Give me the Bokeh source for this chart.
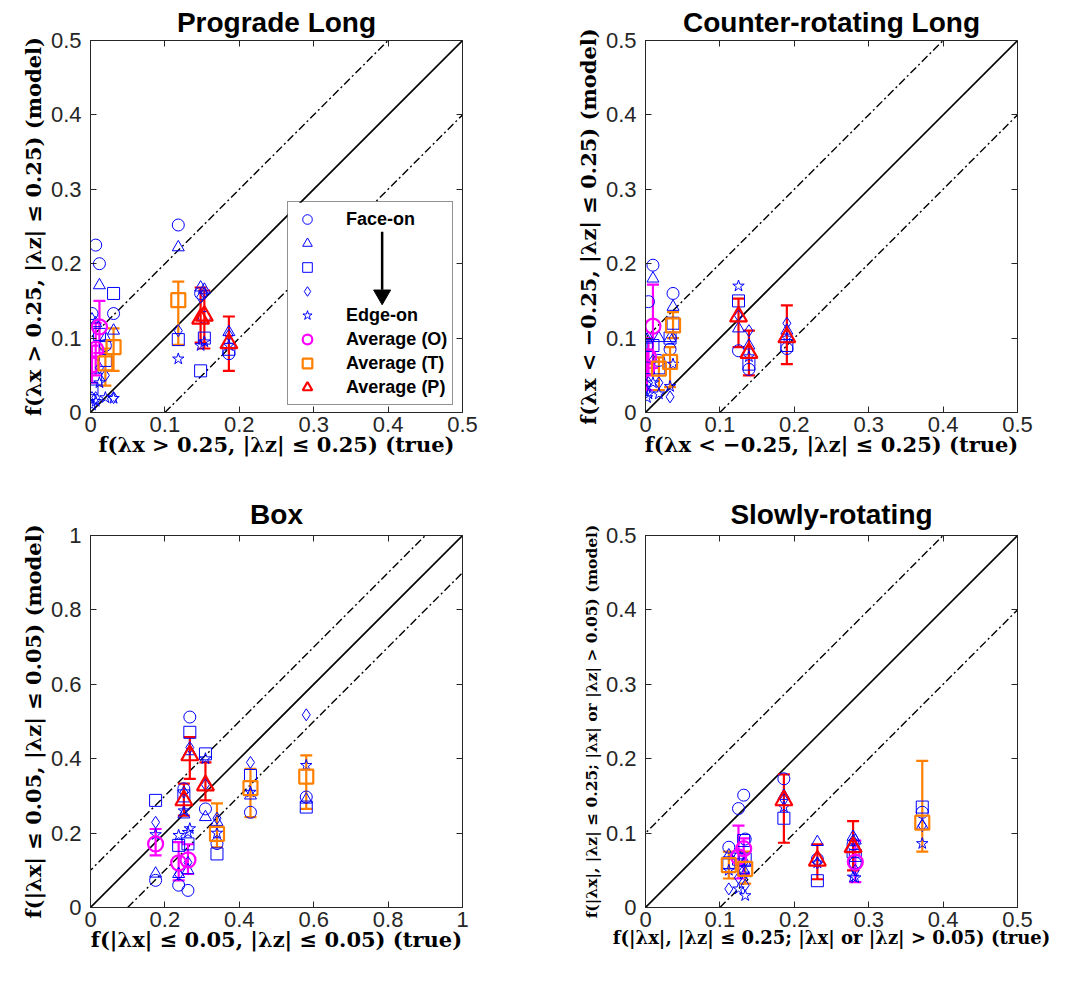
from bokeh.plotting import figure
from bokeh.models import (Range1d, FixedTicker, LinearAxis, Slope, Whisker, TeeHead,
                          ColumnDataSource, Legend, LegendItem, BoxAnnotation,
                          CustomJSTickFormatter)
from bokeh.layouts import column, row
from bokeh.embed import file_html
from bokeh.resources import INLINE

# galaxy order: three oblate (O), three triaxial (T), three prolate (P)
gal_type = ["O", "O", "O", "T", "T", "T", "P", "P", "P"]

# ---------------- Prograde Long ----------------
pro_true = [0.012, 0.007, 0.002, 0.020, 0.031, 0.118, 0.148, 0.153, 0.186]
pro_circle = [0.200, 0.225, 0.133, 0.090, 0.133, 0.252, 0.160, 0.128, 0.079]
pro_triangle = [0.171, 0.120, 0.125, 0.100, 0.110, 0.222, 0.168, 0.165, 0.108]
pro_square = [0.105, 0.045, 0.032, 0.070, 0.160, 0.098, 0.056, 0.100, 0.085]
pro_diamond = [0.060, 0.020, 0.020, 0.050, 0.020, 0.110, 0.155, 0.160, 0.104]
pro_star = [0.040, 0.015, 0.010, 0.020, 0.019, 0.072, 0.090, 0.095, 0.090]
pro_avg = [0.115, 0.085, 0.064, 0.066, 0.088, 0.151, 0.126, 0.130, 0.093]
pro_lo = [0.080, 0.050, 0.040, 0.036, 0.056, 0.091, 0.094, 0.086, 0.056]
pro_hi = [0.150, 0.120, 0.090, 0.086, 0.113, 0.176, 0.168, 0.164, 0.129]

# ---------------- Counter-rotating Long ----------------
cr_true = [0.010, 0.004, 0.002, 0.018, 0.033, 0.037, 0.125, 0.139, 0.190]
cr_circle = [0.198, 0.149, 0.090, 0.070, 0.085, 0.160, 0.083, 0.058, 0.086]
cr_triangle = [0.180, 0.100, 0.098, 0.100, 0.100, 0.142, 0.113, 0.090, 0.110]
cr_square = [0.090, 0.060, 0.060, 0.060, 0.100, 0.120, 0.150, 0.065, 0.090]
cr_diamond = [0.070, 0.040, 0.030, 0.040, 0.021, 0.100, 0.130, 0.110, 0.120]
cr_star = [0.040, 0.025, 0.020, 0.025, 0.035, 0.065, 0.170, 0.075, 0.100]
cr_avg = [0.116, 0.075, 0.060, 0.059, 0.068, 0.117, 0.129, 0.080, 0.101]
cr_lo = [0.060, 0.050, 0.030, 0.030, 0.034, 0.100, 0.088, 0.050, 0.065]
cr_hi = [0.172, 0.100, 0.083, 0.074, 0.088, 0.135, 0.153, 0.110, 0.144]

# ---------------- Box ----------------
box_true = [0.175, 0.237, 0.262, 0.340, 0.430, 0.580, 0.267, 0.251, 0.309]
box_circle = [0.073, 0.060, 0.046, 0.172, 0.256, 0.297, 0.512, 0.319, 0.265]
box_triangle = [0.091, 0.090, 0.100, 0.230, 0.301, 0.290, 0.420, 0.250, 0.243]
box_square = [0.288, 0.167, 0.171, 0.144, 0.355, 0.270, 0.471, 0.300, 0.413]
box_diamond = [0.229, 0.089, 0.121, 0.240, 0.390, 0.518, 0.430, 0.310, 0.330]
box_star = [0.196, 0.194, 0.202, 0.200, 0.310, 0.382, 0.212, 0.260, 0.400]
box_avg = [0.171, 0.120, 0.128, 0.198, 0.321, 0.352, 0.409, 0.288, 0.328]
box_lo = [0.140, 0.073, 0.090, 0.162, 0.243, 0.265, 0.346, 0.247, 0.288]
box_hi = [0.211, 0.176, 0.170, 0.280, 0.373, 0.409, 0.458, 0.333, 0.390]

# ---------------- Slowly-rotating ----------------
slow_true = [0.125, 0.132, 0.282, 0.112, 0.134, 0.372, 0.186, 0.231, 0.279]
slow_circle = [0.133, 0.151, 0.060, 0.081, 0.092, 0.128, 0.173, 0.065, 0.085]
slow_triangle = [0.070, 0.050, 0.090, 0.070, 0.060, 0.110, 0.150, 0.088, 0.095]
slow_square = [0.065, 0.090, 0.070, 0.060, 0.065, 0.135, 0.120, 0.036, 0.075]
slow_diamond = [0.040, 0.060, 0.050, 0.025, 0.030, 0.110, 0.145, 0.060, 0.090]
slow_star = [0.025, 0.045, 0.040, 0.050, 0.016, 0.086, 0.135, 0.060, 0.041]
slow_avg = [0.068, 0.079, 0.061, 0.057, 0.052, 0.114, 0.144, 0.063, 0.081]
slow_lo = [0.039, 0.045, 0.034, 0.039, 0.032, 0.075, 0.087, 0.038, 0.050]
slow_hi = [0.110, 0.093, 0.090, 0.075, 0.075, 0.197, 0.179, 0.085, 0.116]

# axes ticks
ticks_half = [0, 0.1, 0.2, 0.3, 0.4, 0.5]
labels_half = ["0", "0.1", "0.2", "0.3", "0.4", "0.5"]
ticks_one = [0, 0.2, 0.4, 0.6, 0.8, 1]
labels_one = ["0", "0.2", "0.4", "0.6", "0.8", "1"]

BAND = 0.1
legend_labels = ["Face-on", "", "", "", "Edge-on", "Average (O)", "Average (T)", "Average (P)"]
# legend decoration (data units of the first panel): white backing box and arrow
LEG_BOX = dict(left=0.265, right=0.492, bottom=0.009, top=0.282)
ARROW_X, ARROW_Y0, ARROW_Y1, ARROW_HEAD = 0.392, 0.243, 0.165, 0.158

BLUE = "#0000FF"
AX = "#262626"
AVG_COLOR = {"O": "#FF00FF", "T": "#FF8000", "P": "#FF0000"}
AVG_MARK = {"O": "circle", "T": "square", "P": "triangle"}
AVG_SIZE = {"O": 15, "T": 14, "P": 17}
DASH = "8 3 2 3"
TICK_FONT = "Liberation Sans"
LAB_FONT = "DejaVu Serif"


def style_axis(ax, ticks, labels, show, lab=None, lab_size="19px", tick_gap=5, lab_gap=3):
    ax.ticker = FixedTicker(ticks=ticks)
    ax.major_tick_in = 6
    ax.major_tick_out = 0
    ax.minor_tick_line_color = None
    ax.axis_line_color = AX
    ax.major_tick_line_color = AX
    if show:
        ax.major_label_overrides = dict(zip(ticks, labels))
        ax.major_label_text_font = TICK_FONT
        ax.major_label_text_font_size = "22px"
        ax.major_label_text_color = AX
        ax.major_label_standoff = tick_gap
        ax.axis_label = lab
        ax.axis_label_text_font = LAB_FONT
        ax.axis_label_text_font_style = "bold"
        ax.axis_label_text_font_size = lab_size
        ax.axis_label_text_color = "black"
        ax.axis_label_standoff = lab_gap
    else:
        ax.formatter = CustomJSTickFormatter(code="return ''")
        ax.major_label_text_font_size = "0px"
        ax.major_label_standoff = 0


def panel(title, xlab, ylab, xsize, ysize, true, circ, tri, sq, dia, star, avg, lo, hi,
          vmax, ticks, tlabels, borders, title_gap, legend=False):
    bl, br, bt, bb = borders
    p = figure(frame_width=372, frame_height=372,
               x_range=Range1d(0, vmax), y_range=Range1d(0, vmax),
               output_backend="svg", toolbar_location=None,
               min_border_left=bl, min_border_right=br,
               min_border_top=bt, min_border_bottom=bb)
    p.grid.visible = False
    p.outline_line_color = AX
    p.outline_line_width = 1
    p.title.text = title
    p.title.align = "center"
    p.title.text_font = TICK_FONT
    p.title.text_font_style = "bold"
    p.title.text_font_size = "28px"
    p.title.text_color = "black"
    p.title.standoff = title_gap

    style_axis(p.xaxis[0], ticks, tlabels, True, xlab, xsize, tick_gap=4, lab_gap=-3)
    style_axis(p.yaxis[0], ticks, tlabels, True, ylab, ysize, tick_gap=9, lab_gap=2)
    top = LinearAxis()
    right = LinearAxis()
    style_axis(top, ticks, tlabels, False)
    style_axis(right, ticks, tlabels, False)
    p.add_layout(top, "above")
    p.add_layout(right, "right")

    p.add_layout(Slope(gradient=1, y_intercept=0, line_color="black", line_width=1.6,
                       level="underlay"))
    for b in (BAND, -BAND):
        p.add_layout(Slope(gradient=1, y_intercept=b, line_color="black", line_width=1.4,
                           line_dash=DASH, level="underlay"))
    if legend:
        p.add_layout(BoxAnnotation(fill_color="white", fill_alpha=1, line_color=None,
                                   level="underlay", **LEG_BOX))

    rends = []
    for vals, mk in [(circ, "circle"), (tri, "triangle"), (sq, "square"),
                     (dia, "diamond"), (star, "star")]:
        src = ColumnDataSource(dict(x=true, y=vals))
        r = p.scatter("x", "y", source=src, marker=mk, size=12, line_color=BLUE,
                      fill_color=None, line_width=1)
        rends.append(r)

    for k in ["O", "T", "P"]:
        idx = [i for i, t in enumerate(gal_type) if t == k]
        c = AVG_COLOR[k]
        src = ColumnDataSource(dict(x=[true[i] for i in idx], y=[avg[i] for i in idx],
                                    lo=[lo[i] for i in idx], hi=[hi[i] for i in idx]))
        p.add_layout(Whisker(source=src, base="x", upper="hi", lower="lo",
                             dimension="height", line_color=c, line_width=2.2,
                             upper_head=TeeHead(size=12, line_color=c, line_width=2.2),
                             lower_head=TeeHead(size=12, line_color=c, line_width=2.2)))
        r = p.scatter("x", "y", source=src, marker=AVG_MARK[k], size=AVG_SIZE[k],
                      line_color=c, fill_color=None, line_width=2.2)
        rends.append(r)

    if legend:
        items = [LegendItem(label=l, renderers=[r]) for l, r in zip(legend_labels, rends)]
        leg = Legend(items=items, location=(197, 7), orientation="vertical",
                     border_line_color=AX, border_line_width=1,
                     background_fill_alpha=0,
                     label_text_font=TICK_FONT, label_text_font_style="bold",
                     label_text_font_size="18px", label_text_color="black",
                     glyph_width=28, glyph_height=24, label_height=24,
                     label_standoff=25, padding=5, spacing=0, margin=0)
        p.add_layout(leg)
        p.segment(x0=[ARROW_X], y0=[ARROW_Y0], x1=[ARROW_X], y1=[ARROW_Y1],
                  line_color="black", line_width=2.5)
        p.scatter(x=[ARROW_X], y=[ARROW_HEAD], marker="inverted_triangle", size=17,
                  fill_color="black", line_color="black")
    return p


p1 = panel("Prograde Long",
           "f(λx > 0.25, |λz| ≤ 0.25) (true)", "f(λx > 0.25, |λz| ≤ 0.25) (model)",
           "21px", "21px",
           pro_true, pro_circle, pro_triangle, pro_square, pro_diamond, pro_star,
           pro_avg, pro_lo, pro_hi, 0.5, ticks_half, labels_half, (90, 101, 40, 70), 6,
           legend=True)
p2 = panel("Counter-rotating Long",
           "f(λx < −0.25, |λz| ≤ 0.25) (true)", "f(λx < −0.25, |λz| ≤ 0.25) (model)",
           "21px", "21px",
           cr_true, cr_circle, cr_triangle, cr_square, cr_diamond, cr_star,
           cr_avg, cr_lo, cr_hi, 0.5, ticks_half, labels_half, (82, 40, 40, 70), 6)
p3 = panel("Box",
           "f(|λx| ≤ 0.05, |λz| ≤ 0.05) (true)", "f(|λx| ≤ 0.05, |λz| ≤ 0.05) (model)",
           "21px", "21px",
           box_true, box_circle, box_triangle, box_square, box_diamond, box_star,
           box_avg, box_lo, box_hi, 1, ticks_one, labels_one, (90, 101, 53, 62), 12)
p4 = panel("Slowly-rotating",
           "f(|λx|, |λz| ≤ 0.25; |λx| or |λz| > 0.05) (true)",
           "f(|λx|, |λz| ≤ 0.25; |λx| or |λz| > 0.05) (model)",
           "18px", "15.5px",
           slow_true, slow_circle, slow_triangle, slow_square, slow_diamond, slow_star,
           slow_avg, slow_lo, slow_hi, 0.5, ticks_half, labels_half, (82, 40, 53, 62), 12)

layout = column(row(p1, p2), row(p3, p4))
open("out.html", "w").write(file_html(layout, INLINE))
